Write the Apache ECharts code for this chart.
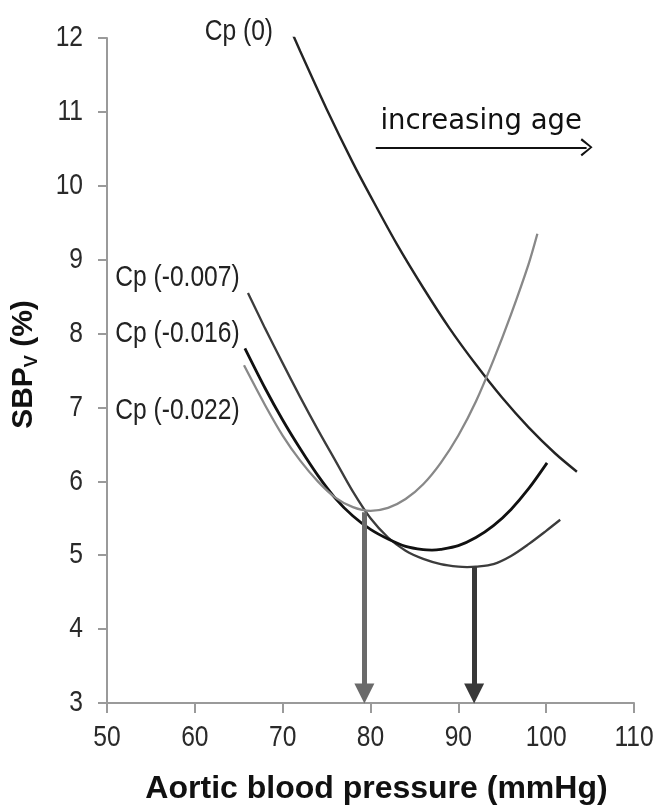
<!DOCTYPE html>
<html><head><meta charset="utf-8">
<script src="https://cdn.jsdelivr.net/npm/echarts@6/dist/echarts.min.js"></script>
<style>html,body{margin:0;padding:0;background:#fff}#c{width:657px;height:810px}</style>
</head><body><div id="c"></div>
<script>
// ---- data ----
const seriesNames = ['Cp (0)', 'Cp (-0.007)', 'Cp (-0.016)', 'Cp (-0.022)'];
const cp0X   = [70.3, 72, 75, 78, 80, 83, 86, 89, 92, 95, 98, 101, 103.5];
const cp0Y   = [12.28, 11.82, 11.04, 10.31, 9.86, 9.21, 8.62, 8.07, 7.58, 7.13, 6.73, 6.38, 6.13];
const cp007X = [66.05, 68, 70, 72, 74, 76, 78, 80, 82, 84, 86, 88, 90, 91, 92, 94, 96, 98, 100, 101.6];
const cp007Y = [8.55, 8.07, 7.60, 7.14, 6.70, 6.28, 5.86, 5.50, 5.24, 5.06, 4.95, 4.88, 4.845, 4.84, 4.845, 4.88, 4.99, 5.15, 5.33, 5.48];
const cp016X = [65.7, 68, 70, 72, 74, 76, 78, 80, 82, 84, 86, 87, 88, 90, 92, 94, 96, 98, 100.1];
const cp016Y = [7.80, 7.26, 6.83, 6.44, 6.08, 5.77, 5.53, 5.35, 5.22, 5.12, 5.075, 5.07, 5.08, 5.13, 5.24, 5.40, 5.62, 5.90, 6.25];
const cp022X = [65.6, 68, 70, 72, 74, 76, 78, 80, 82, 84, 86, 88, 90, 92, 94, 96, 98, 99];
const cp022Y = [7.57, 7.03, 6.62, 6.28, 6.00, 5.78, 5.65, 5.60, 5.64, 5.76, 5.96, 6.25, 6.62, 7.08, 7.64, 8.26, 8.94, 9.35];
const labelX = [68.9, 65.1, 65.1, 65.1];
const labelY = [12.08, 8.76, 8.0, 6.96];
const optimumX = [79.3, 91.8];     // vertical arrows (optimal pressure)
const optimumY = [5.58, 4.84];
const arrowTipY = 3.13;
const ageArrowX = [80.6, 104.6];
const ageArrowY = 10.52;
const xTicks = [50, 60, 70, 80, 90, 100, 110];
const yTicks = [3, 4, 5, 6, 7, 8, 9, 10, 11, 12];
const xMin = 50, xMax = 110, xStep = 10;
const yMin = 3, yMax = 12, yStep = 1;

// ---- styles ----
const lineColors = ['#242424', '#3c3c3c', '#111111', '#888888'];
const lineWidths = [2.4, 2.3, 2.8, 2.3];
const arrowColors = ['#6a6a6a', '#383838'];
const sans = '"Liberation Sans", Arial, sans-serif';
const NARROW = 0.82;

const zip = (xs, ys) => xs.map((x, i) => [x, ys[i]]);
const curves = [zip(cp0X, cp0Y), zip(cp007X, cp007Y), zip(cp016X, cp016Y), zip(cp022X, cp022Y)];

const series = curves.map((d, i) => ({
  name: seriesNames[i], type: 'line', data: d, smooth: 0.3, showSymbol: false, symbol: 'none',
  lineStyle: { color: lineColors[i], width: lineWidths[i] }, z: 3
}));

const arrowSeries = optimumX.map((x, i) => ({
  type: 'line', data: [], markLine: {
    silent: true, animation: false, symbol: ['none', 'triangle'], symbolSize: 20,
    lineStyle: { color: arrowColors[i], width: 5, type: 'solid' }, label: { show: false },
    itemStyle: { color: arrowColors[i] },
    data: [[{ coord: [x, optimumY[i]] }, { coord: [x, arrowTipY] }]]
  }
}));

const ageSeries = {
  type: 'line', data: [], markLine: {
    silent: true, animation: false,
    symbol: ['none', 'path://M0,12 L10,0 L20,12 L18,13.5 L10,3 L2,13.5 Z'], symbolSize: [18, 12],
    lineStyle: { color: '#111', width: 2, type: 'solid' },
    itemStyle: { color: '#111' },
    label: { show: true, position: 'insideMiddleTop', distance: 11, formatter: 'increasing age',
      fontFamily: '"DejaVu Sans", Verdana, sans-serif', fontSize: 27.5, color: '#111' },
    data: [[{ coord: [ageArrowX[0], ageArrowY] }, { coord: [ageArrowX[1], ageArrowY] }]]
  }
};

const axisLineStyle = { color: '#9a9a9a', width: 2 };
const chart = echarts.init(document.getElementById('c'), null, { renderer: 'canvas' });
chart.setOption({
  animation: false,
  backgroundColor: '#ffffff',
  grid: { left: 107, right: 23, top: 38, bottom: 107 },
  xAxis: {
    type: 'value', min: xMin, max: xMax, interval: xStep,
    axisLine: { show: true, lineStyle: axisLineStyle },
    axisTick: { show: true, inside: false, length: 10, lineStyle: axisLineStyle },
    splitLine: { show: false },
    axisLabel: { show: false },
    name: 'Aortic blood pressure (mmHg)', nameLocation: 'middle', nameGap: 70,
    nameTextStyle: { fontFamily: sans, fontWeight: 'bold', fontSize: 32, color: '#111', padding: [0, 0, 0, 12] }
  },
  yAxis: {
    type: 'value', min: yMin, max: yMax, interval: yStep,
    axisLine: { show: true, lineStyle: axisLineStyle },
    axisTick: { show: true, inside: false, length: 9, lineStyle: axisLineStyle },
    splitLine: { show: false },
    axisLabel: { show: false },
    name: '{a|SBP}{v|V}{a| (%)}', nameLocation: 'middle', nameGap: 66, nameRotate: 90,
    nameTextStyle: {
      padding: [0, 0, 0, 12],
      rich: {
        a: { fontFamily: sans, fontWeight: 'bold', fontSize: 30, color: '#111', lineHeight: 34 },
        v: { fontFamily: sans, fontWeight: 'bold', fontSize: 18, color: '#111', lineHeight: 16, verticalAlign: 'bottom' }
      }
    }
  },
  series: [...series, ...arrowSeries, ageSeries]
});

// condensed text (tick labels & curve labels) placed via the chart's own scales
const px = (x, y) => chart.convertToPixel({ gridIndex: 0 }, [x, y]);
const graphics = [];
const narrowText = (text, p, align, fontSize, color) => ({
  type: 'text', x: p[0], y: p[1], scaleX: NARROW, silent: true, z: 10,
  style: { text, x: 0, y: 0, fontFamily: sans, fontSize, fill: color, align, verticalAlign: 'middle' }
});
yTicks.forEach(v => { const p = px(xMin, v); graphics.push(narrowText(String(v), [p[0] - 24, p[1]], 'right', 30, '#2a2a2a')); });
xTicks.forEach(v => { const p = px(v, yMin); graphics.push(narrowText(String(v), [p[0], p[1] + 35], 'center', 30, '#2a2a2a')); });
seriesNames.forEach((n, i) => { graphics.push(narrowText(n, px(labelX[i], labelY[i]), 'right', 30, '#222')); });
chart.setOption({ graphic: graphics });
</script></body></html>
